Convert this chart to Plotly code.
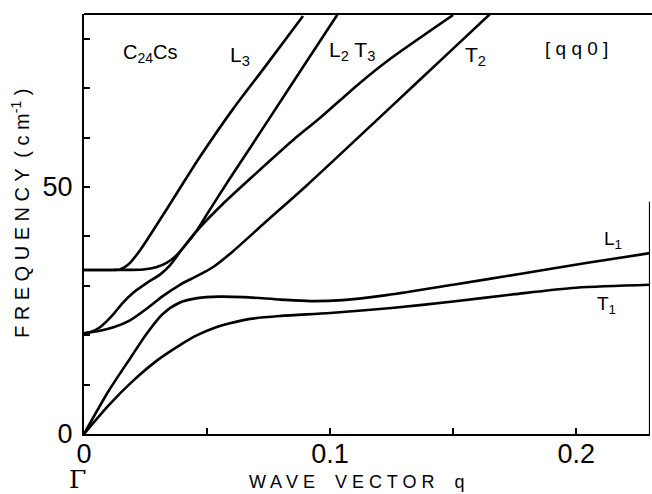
import plotly.graph_objects as go

# Wave vector q and frequency (cm^-1), [qq0] direction of C24Cs
T1_q = [0, 0.01, 0.02, 0.03, 0.039, 0.046, 0.0526, 0.0593, 0.0675, 0.08, 0.1, 0.125, 0.15, 0.175, 0.2, 0.23]
T1_f = [0, 5.8, 10.8, 15.0, 18.0, 20.0, 21.4, 22.4, 23.3, 23.9, 24.5, 25.5, 26.8, 28.3, 29.6, 30.2]

L1_q = [0, 0.01, 0.019, 0.0256, 0.032, 0.039, 0.046, 0.055, 0.065, 0.08, 0.092, 0.105, 0.123, 0.15, 0.177, 0.204, 0.23]
L1_f = [0, 8.7, 15.5, 20.4, 24.3, 26.6, 27.5, 27.8, 27.7, 27.2, 26.9, 27.1, 28.1, 30.2, 32.4, 34.6, 36.6]

L3_q = [0, 0.012, 0.0146, 0.018, 0.0228, 0.034, 0.047, 0.0606, 0.074, 0.089]
L3_f = [33.2, 33.2, 33.3, 34.3, 37.2, 45.8, 56.0, 65.8, 74.6, 84.6]

L2_q = [0, 0.0146, 0.024, 0.0296, 0.0337, 0.037, 0.041, 0.046, 0.050, 0.059, 0.068, 0.078, 0.088, 0.096, 0.103]
L2_f = [33.2, 33.2, 33.3, 33.8, 34.7, 35.9, 38.1, 41.3, 44.5, 51.5, 58.3, 65.9, 73.5, 79.6, 84.9]

T3_q = [0, 0.003, 0.0065, 0.0119, 0.0153, 0.020, 0.0256, 0.031, 0.035, 0.040, 0.046,
        0.0565, 0.070, 0.085, 0.096, 0.112, 0.123, 0.150]
T3_f = [20.4, 20.7, 21.6, 24.2, 26.3, 28.6, 30.6, 32.3, 34.2, 37.5, 41.2,
        46.6, 52.8, 59.5, 64.0, 71.0, 75.4, 84.8]

T2_q = [0, 0.0065, 0.012, 0.0187, 0.0256, 0.032, 0.039, 0.046, 0.0525, 0.0606, 0.074, 0.0905, 0.123, 0.150, 0.165]
T2_f = [20.4, 20.9, 21.6, 23.0, 25.4, 27.9, 30.2, 32.0, 33.8, 37.0, 43.0, 50.3, 65.4, 78.0, 85.0]

branches = [(T1_q, T1_f), (L1_q, L1_f), (L3_q, L3_f), (L2_q, L2_f), (T3_q, T3_f), (T2_q, T2_f)]

x_ticks = [0, 0.05, 0.1, 0.15, 0.2]
x_ticktext = ["0", "", "0.1", "", "0.2"]
y_ticks = [0, 10, 20, 30, 40, 50, 60, 70, 80]
y_ticktext = ["0", "", "", "", "", "50", "", "", ""]

fig = go.Figure()
for q, f in branches:
    fig.add_trace(go.Scatter(x=q, y=f, mode="lines",
                             line=dict(color="black", width=2.6, shape="spline", smoothing=0.8),
                             showlegend=False, hoverinfo="skip"))

font_main = "Liberation Sans, Arial, sans-serif"

fig.update_layout(
    width=652, height=494,
    margin=dict(l=84, r=2, t=14, b=60),
    paper_bgcolor="white", plot_bgcolor="white",
    font=dict(family=font_main, color="black"),
    xaxis=dict(range=[0, 0.23], showgrid=False, zeroline=False,
               showline=True, linecolor="black", linewidth=2.2,
               tickmode="array", tickvals=x_ticks, ticktext=x_ticktext,
               ticks="inside", ticklen=6, tickwidth=1.5, tickcolor="black",
               ticklabelstandoff=-6,
               tickfont=dict(size=27, family=font_main, color="black")),
    yaxis=dict(range=[0, 85], showgrid=False, zeroline=False,
               showline=True, linecolor="black", linewidth=2.2,
               tickmode="array", tickvals=y_ticks, ticktext=y_ticktext,
               ticks="inside", ticklen=6, tickwidth=1.5, tickcolor="black",
               ticklabelstandoff=4,
               tickfont=dict(size=27, family=font_main, color="black")),
)

# top frame line and partial right frame line
fig.add_shape(type="line", xref="paper", yref="paper", x0=0, x1=1.01, y0=1, y1=1,
              line=dict(color="black", width=2.2))
fig.add_shape(type="line", xref="x", yref="y", x0=0.23, x1=0.23, y0=0, y1=47,
              line=dict(color="black", width=2.2))

def label(text, x, y, size, xref="x", yref="y", angle=0, family=font_main):
    fig.add_annotation(text=text, x=x, y=y, xref=xref, yref=yref, showarrow=False,
                       textangle=angle, font=dict(size=size, family=family, color="black"),
                       xanchor="center", yanchor="middle", borderpad=0)

label("C<sub>24</sub>Cs", 0.027, 77, 20)
label("L<sub>3</sub>", 0.0635, 76.5, 21)
label("L<sub>2</sub> T<sub>3</sub>", 0.109, 77.5, 21)
label("T<sub>2</sub>", 0.159, 76.5, 21)
label("[ q q 0 ]", 0.2, 78, 19)
label("L<sub>1</sub>", 0.215, 39.2, 19)
label("T<sub>1</sub>", 0.2125, 26.2, 19)

label("Γ", -0.011, -0.108, 25, xref="paper", yref="paper", family="DejaVu Serif, serif")
label("W A V E    V E C T O R    q", 0.482, -0.115, 18, xref="paper", yref="paper")
label("F R E Q U E N C Y  ( c m<sup>-1</sup> )", -0.113, 0.526, 20, xref="paper", yref="paper", angle=-90)

fig.write_html("out.html")
